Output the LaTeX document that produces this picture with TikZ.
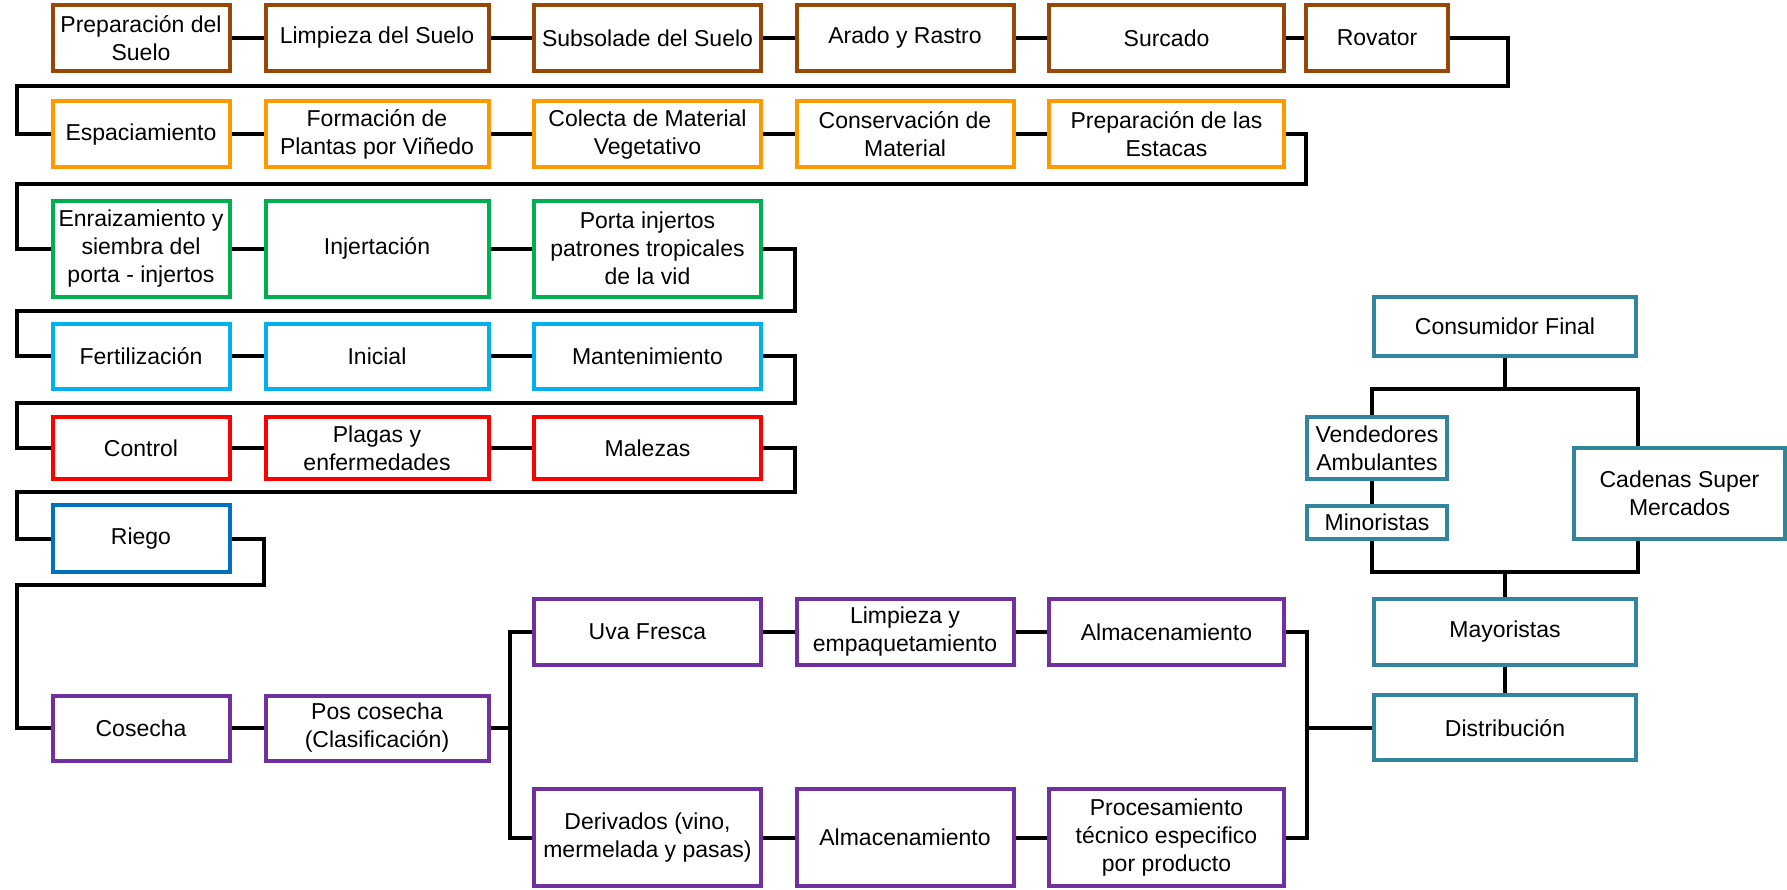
\documentclass[tikz,border=0pt]{standalone}
\usepackage{fontspec}
\setmainfont{Liberation Sans}
\definecolor{agbrown}{RGB}{152,72,6}
\definecolor{agorange}{RGB}{255,153,0}
\definecolor{aggreen}{RGB}{0,176,80}
\definecolor{agsky}{RGB}{0,176,240}
\definecolor{agred}{RGB}{255,0,0}
\definecolor{agblue}{RGB}{0,112,192}
\definecolor{agpurple}{RGB}{112,48,160}
\definecolor{agteal}{RGB}{49,133,156}

\begin{document}
\begin{tikzpicture}[x=1pt,y=-1pt,
  stage/.style={draw,line width=4pt,fill=white,inner xsep=0pt,inner ysep=2pt,align=center,font=\fontsize{23}{28}\selectfont},
  colA/.style={minimum width=177pt},
  colB/.style={minimum width=223pt},
  colC/.style={minimum width=227pt},
  colD/.style={minimum width=217pt},
  colE/.style={minimum width=235pt},
  link/.style={draw=black,line width=4pt}]
  \useasboundingbox (0,0) rectangle (1787,889);
  % Soil preparation
  \node[stage,draw=agbrown,colA,minimum height=66pt] (prep) at (141,38) {Preparación del\\Suelo};
  \node[stage,draw=agbrown,colB,minimum height=66pt] (limp) at (377,38) {Limpieza del Suelo};
  \node[stage,draw=agbrown,colC,minimum height=66pt] (subs) at (647.5,38) {Subsolade del Suelo};
  \node[stage,draw=agbrown,colD,minimum height=66pt] (arado) at (905,38) {Arado y Rastro};
  \node[stage,draw=agbrown,colE,minimum height=66pt] (surc) at (1166.5,38) {Surcado};
  \node[stage,draw=agbrown,minimum width=142pt,minimum height=66pt] (rov) at (1377,38) {Rovator};
  % Planting material
  \node[stage,draw=agorange,colA,minimum height=66pt] (esp) at (141,134.3) {Espaciamiento};
  \node[stage,draw=agorange,colB,minimum height=66pt] (form) at (377,134.3) {Formación de\\Plantas por Viñedo};
  \node[stage,draw=agorange,colC,minimum height=66pt] (colecta) at (647.5,134.3) {Colecta de Material\\Vegetativo};
  \node[stage,draw=agorange,colD,minimum height=66pt] (cons) at (905,134.3) {Conservación de\\Material};
  \node[stage,draw=agorange,colE,minimum height=66pt] (estacas) at (1166.5,134.3) {Preparación de las\\Estacas};
  % Rootstock
  \node[stage,draw=aggreen,colA,minimum height=96pt] (enraiz) at (141,248.7) {Enraizamiento y\\siembra del\\porta - injertos};
  \node[stage,draw=aggreen,colB,minimum height=96pt] (injert) at (377,248.7) {Injertación};
  \node[stage,draw=aggreen,colC,minimum height=96pt] (porta) at (647.5,248.7) {Porta injertos\\patrones tropicales\\de la vid};
  % Fertilization
  \node[stage,draw=agsky,colA,minimum height=65pt] (fert) at (141,356) {Fertilización};
  \node[stage,draw=agsky,colB,minimum height=65pt] (inic) at (377,356) {Inicial};
  \node[stage,draw=agsky,colC,minimum height=65pt] (mant) at (647.5,356) {Mantenimiento};
  % Control
  \node[stage,draw=agred,colA,minimum height=62.6pt] (control) at (141,448) {Control};
  \node[stage,draw=agred,colB,minimum height=62.6pt] (plagas) at (377,448) {Plagas y\\enfermedades};
  \node[stage,draw=agred,colC,minimum height=62.6pt] (malezas) at (647.5,448) {Malezas};
  % Irrigation
  \node[stage,draw=agblue,colA,minimum height=66.7pt] (riego) at (141,538.7) {Riego};
  % Harvest
  \node[stage,draw=agpurple,colA,minimum height=65pt] (cosecha) at (141,728) {Cosecha};
  \node[stage,draw=agpurple,colB,minimum height=65pt] (poscos) at (377,728) {Pos cosecha\\(Clasificación)};
  \node[stage,draw=agpurple,colC,minimum height=66.6pt] (uva) at (647.5,632) {Uva Fresca};
  \node[stage,draw=agpurple,colD,minimum height=66.6pt] (limpemp) at (905,632) {Limpieza y\\empaquetamiento};
  \node[stage,draw=agpurple,colE,minimum height=66.6pt] (alm1) at (1166.5,632) {Almacenamiento};
  \node[stage,draw=agpurple,colC,minimum height=97.6pt] (deriv) at (647.5,837.5) {Derivados (vino,\\mermelada y pasas)};
  \node[stage,draw=agpurple,colD,minimum height=97.6pt] (alm2) at (905,837.5) {Almacenamiento};
  \node[stage,draw=agpurple,colE,minimum height=97.6pt] (proc) at (1166.5,837.5) {Procesamiento\\técnico especifico\\por producto};
  % Market
  \node[stage,draw=agteal,minimum width=262.4pt,minimum height=58.7pt] (cf) at (1505,326.4) {Consumidor Final};
  \node[stage,draw=agteal,minimum width=140.5pt,minimum height=62pt] (vend) at (1377,448) {Vendedores\\Ambulantes};
  \node[stage,draw=agteal,minimum width=140.5pt,minimum height=33pt] (mino) at (1377,522.5) {Minoristas};
  \node[stage,draw=agteal,minimum width=211pt,minimum height=91.3pt] (cad) at (1679.5,493.3) {Cadenas Super\\Mercados};
  \node[stage,draw=agteal,minimum width=262.4pt,minimum height=66pt] (may) at (1505,631.7) {Mayoristas};
  \node[stage,draw=agteal,minimum width=262.4pt,minimum height=65pt] (dist) at (1505,727.8) {Distribución};
  % Links in each row
  \draw[link] (prep) -- (limp) -- (subs) -- (arado) -- (surc) -- (rov);
  \draw[link] (esp) -- (form) -- (colecta) -- (cons) -- (estacas);
  \draw[link] (enraiz) -- (injert) -- (porta);
  \draw[link] (fert) -- (inic) -- (mant);
  \draw[link] (control) -- (plagas) -- (malezas);
  % Return lines
  \draw[link] (rov.east) -- (1508,38) |- (17,86) |- (esp.west);
  \draw[link] (estacas.east) -- (1306,134.3) |- (17,184) |- (enraiz.west);
  \draw[link] (porta.east) -- (795,248.7) |- (17,310.5) |- (fert.west);
  \draw[link] (mant.east) -- (795,356) |- (17,403.3) |- (control.west);
  \draw[link] (malezas.east) -- (795,448) |- (17,492.3) |- (riego.west);
  \draw[link] (riego.east) -- (264,538.7) |- (17,585) |- (cosecha.west);
  % Harvest branches
  \draw[link] (cosecha) -- (poscos);
  \draw[link] (poscos.east) -- (510,728);
  \draw[link] (uva.west) -| (510,837.5) -- (deriv.west);
  \draw[link] (uva) -- (limpemp) -- (alm1);
  \draw[link] (deriv) -- (alm2) -- (proc);
  \draw[link] (alm1.east) -| (1306.8,837.5) -- (proc.east);
  \draw[link] (dist.west) -- (1306.8,727.8);
  % Market links
  \coordinate (split) at (1505,389.3);
  \coordinate (merge) at (1505,572.3);
  \draw[link] (cf.south) -- (split);
  \draw[link] (vend.north -| cf.west) |- (split) -| (cad.north -| cf.east);
  \draw[link] (vend.south -| cf.west) -- (mino.north -| cf.west);
  \draw[link] (mino.south -| cf.west) |- (merge) -| (cad.south -| cf.east);
  \draw[link] (merge) -- (may.north);
  \draw[link] (may) -- (dist);
\end{tikzpicture}
\end{document}
